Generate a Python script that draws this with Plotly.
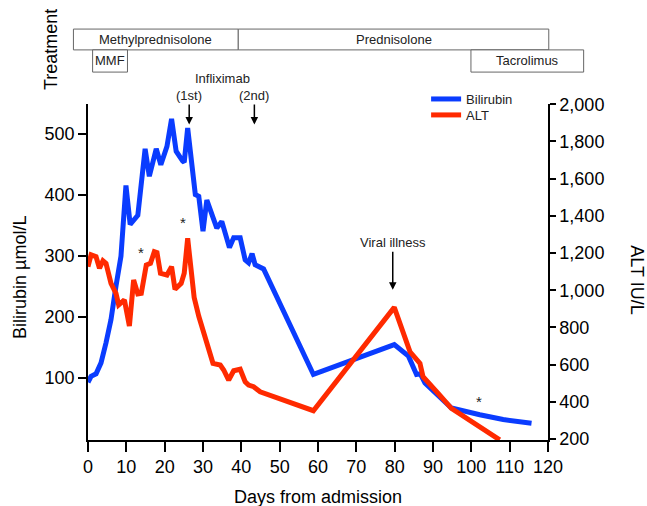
import plotly.graph_objects as go

# ---------------- data ----------------
bili_days = [0, 0.8, 2.1, 3.4, 4.7, 6, 7.3, 8.6, 9.9, 11, 13, 14.9, 16, 17.8, 19, 20.6,
             21.8, 23, 24.7, 25.1, 26, 26.9, 28, 28.9, 30, 31, 32.3, 33.6, 34.9, 36.9,
             38, 39.7, 41, 41.9, 42.8, 43.6, 45.8, 58.8, 79.9, 83.6, 85.7, 86.7, 87.9,
             91.8, 94.8, 102.2, 108.3, 115.7]
bili_vals = [92, 102, 106, 124, 157, 195, 250, 299, 415, 351, 366, 475, 430, 475, 449, 479,
             524, 471, 455, 453, 509, 457, 400, 397, 340, 391, 370, 345, 356, 313,
             329, 329, 293, 288, 303, 285, 278, 105, 154, 135, 105, 106, 91,
             67, 50, 39, 31, 25]

alt_days = [0, 0.8, 2.1, 3, 3.9, 4.7, 6, 7.3, 8, 9.5, 10.8, 11.9, 13, 13.9, 15.2, 16.3,
            17.3, 18, 18.9, 20.6, 21.8, 22.7, 24.3, 25.1, 26, 26.8, 27.7, 28.9, 29.7,
            30.9, 32.6, 34.5, 35.4, 36.7, 38, 39.7, 41, 41.9, 43.2, 44.9, 58.8, 79.9,
            84, 86.6, 87.4, 91.3, 94.8, 107.4]
alt_vals = [1127, 1190, 1180, 1118, 1159, 1145, 1037, 983, 921, 948, 808, 1055, 980, 983,
            1136, 1145, 1207, 1202, 1091, 1082, 1127, 1005, 1037, 1091, 1279, 1127, 960,
            860, 804, 715, 607, 598, 571, 517, 567, 575, 508, 490, 481, 454, 352, 908,
            669, 607, 535, 446, 365, 195]

x_ticks = list(range(0, 121, 10))
bili_ticks = [100, 200, 300, 400, 500]
alt_ticks = list(range(200, 2001, 200))

treat_names = ["Methylprednisolone", "Prednisolone", "MMF", "Tacrolimus"]
treat_start = [-3.8, 39.2, 1.2, 99.9]
treat_end = [39.2, 120.2, 10.3, 129.3]
treat_row = [0, 0, 1, 1]

infliximab_labels = ["(1st)", "(2nd)"]
infliximab_days = [26.4, 43.4]
viral_day = 79.5
asterisk_days = [13.7, 24.7, 102]
asterisk_bili = [305, 355, 60]

# ---------------- figure ----------------
FONT = "Liberation Sans, Arial, sans-serif"
X_RANGE = [0, 120]
BLUE = "#0A3CFF"
RED = "#FF2A00"
TXT = "#222"

fig = go.Figure()
fig.add_trace(go.Scatter(x=bili_days, y=bili_vals, mode="lines", name="Bilirubin",
                         line=dict(color=BLUE, width=5), yaxis="y", legend="legend"))
fig.add_trace(go.Scatter(x=alt_days, y=alt_vals, mode="lines", name="ALT",
                         line=dict(color=RED, width=5), yaxis="y2", legend="legend2"))

axis_common = dict(showline=True, linecolor="black", linewidth=1.5, ticks="outside",
                   tickcolor="black", tickwidth=1.5, showgrid=False, zeroline=False,
                   tickfont=dict(family=FONT, size=18, color="black"))

legend_common = dict(xanchor="left", yanchor="top", font=dict(family=FONT, size=13, color=TXT),
                     bgcolor="rgba(0,0,0,0)")

fig.update_layout(
    width=647, height=506,
    margin=dict(l=88, r=99, t=104, b=66),
    paper_bgcolor="white", plot_bgcolor="white",
    font=dict(family=FONT, color="black"),
    xaxis=dict(range=X_RANGE, tickvals=x_ticks, ticklen=10, **axis_common),
    yaxis=dict(range=[-2.5, 548.5], tickvals=bili_ticks, ticklen=8, **axis_common),
    yaxis2=dict(range=[194.6, 2001.6], tickvals=alt_ticks, tickformat=",", ticklen=6,
                overlaying="y", side="right", **axis_common),
    legend=dict(x=0.735, y=1.0595, **legend_common),
    legend2=dict(x=0.735, y=1.012, **legend_common),
    showlegend=True,
)

def xp(day):
    return (day - X_RANGE[0]) / (X_RANGE[1] - X_RANGE[0])

def txt(size=13, color=TXT):
    return dict(family=FONT, size=size, color=color)

row_y = [(1.161, 1.223), (1.095, 1.161)]
shapes = []
annotations = []
for name, s, e, r in zip(treat_names, treat_start, treat_end, treat_row):
    y0, y1 = row_y[r]
    shapes.append(dict(type="rect", xref="paper", yref="paper", x0=xp(s), x1=xp(e),
                       y0=y0, y1=y1, line=dict(color="#666", width=1), fillcolor="white"))
    annotations.append(dict(xref="paper", yref="paper", x=(xp(s) + xp(e)) / 2,
                            y=(y0 + y1) / 2, xanchor="center", yanchor="middle",
                            text=name, showarrow=False, font=txt()))
fig.update_layout(shapes=shapes)

# Infliximab
annotations.append(dict(xref="x", yref="paper", x=35, y=(440 - 78) / 336,
                        xanchor="center", yanchor="middle", text="Infliximab",
                        showarrow=False, font=txt()))
for lab, d in zip(infliximab_labels, infliximab_days):
    annotations.append(dict(xref="x", yref="y", x=d, y=515, text=lab, showarrow=True,
                            ax=0, ay=-29, arrowhead=2, arrowsize=1, arrowwidth=1.5,
                            arrowcolor="black", font=txt()))
# Viral illness
annotations.append(dict(xref="x", yref="y", x=viral_day, y=244, text="Viral illness",
                        showarrow=True, ax=0, ay=-47, arrowhead=2, arrowsize=1,
                        arrowwidth=1.5, arrowcolor="black", font=txt()))
# asterisks
for d, b in zip(asterisk_days, asterisk_bili):
    annotations.append(dict(xref="x", yref="y", x=d, y=b, text="*", showarrow=False,
                            font=txt(15)))

# axis titles
annotations += [
    dict(xref="paper", yref="paper", x=-0.148, y=0.485, text="Bilirubin µmol/L",
         xanchor="center", yanchor="middle", textangle=-90, showarrow=False,
         font=txt(18, "black")),
    dict(xref="paper", yref="paper", x=1.193, y=0.476, text="ALT IU/L",
         xanchor="center", yanchor="middle", textangle=90, showarrow=False,
         font=txt(18, "black")),
    dict(xref="paper", yref="paper", x=0.5, y=-0.17, text="Days from admission",
         xanchor="center", yanchor="middle", showarrow=False, font=txt(18, "black")),
    dict(xref="paper", yref="paper", x=-0.08, y=1.161, text="Treatment",
         xanchor="center", yanchor="middle", textangle=-90, showarrow=False,
         font=txt(18, "black")),
]
fig.update_layout(annotations=annotations)

fig.write_html("out.html", config={"displayModeBar": False},
               post_script="document.body.style.margin='0';")
